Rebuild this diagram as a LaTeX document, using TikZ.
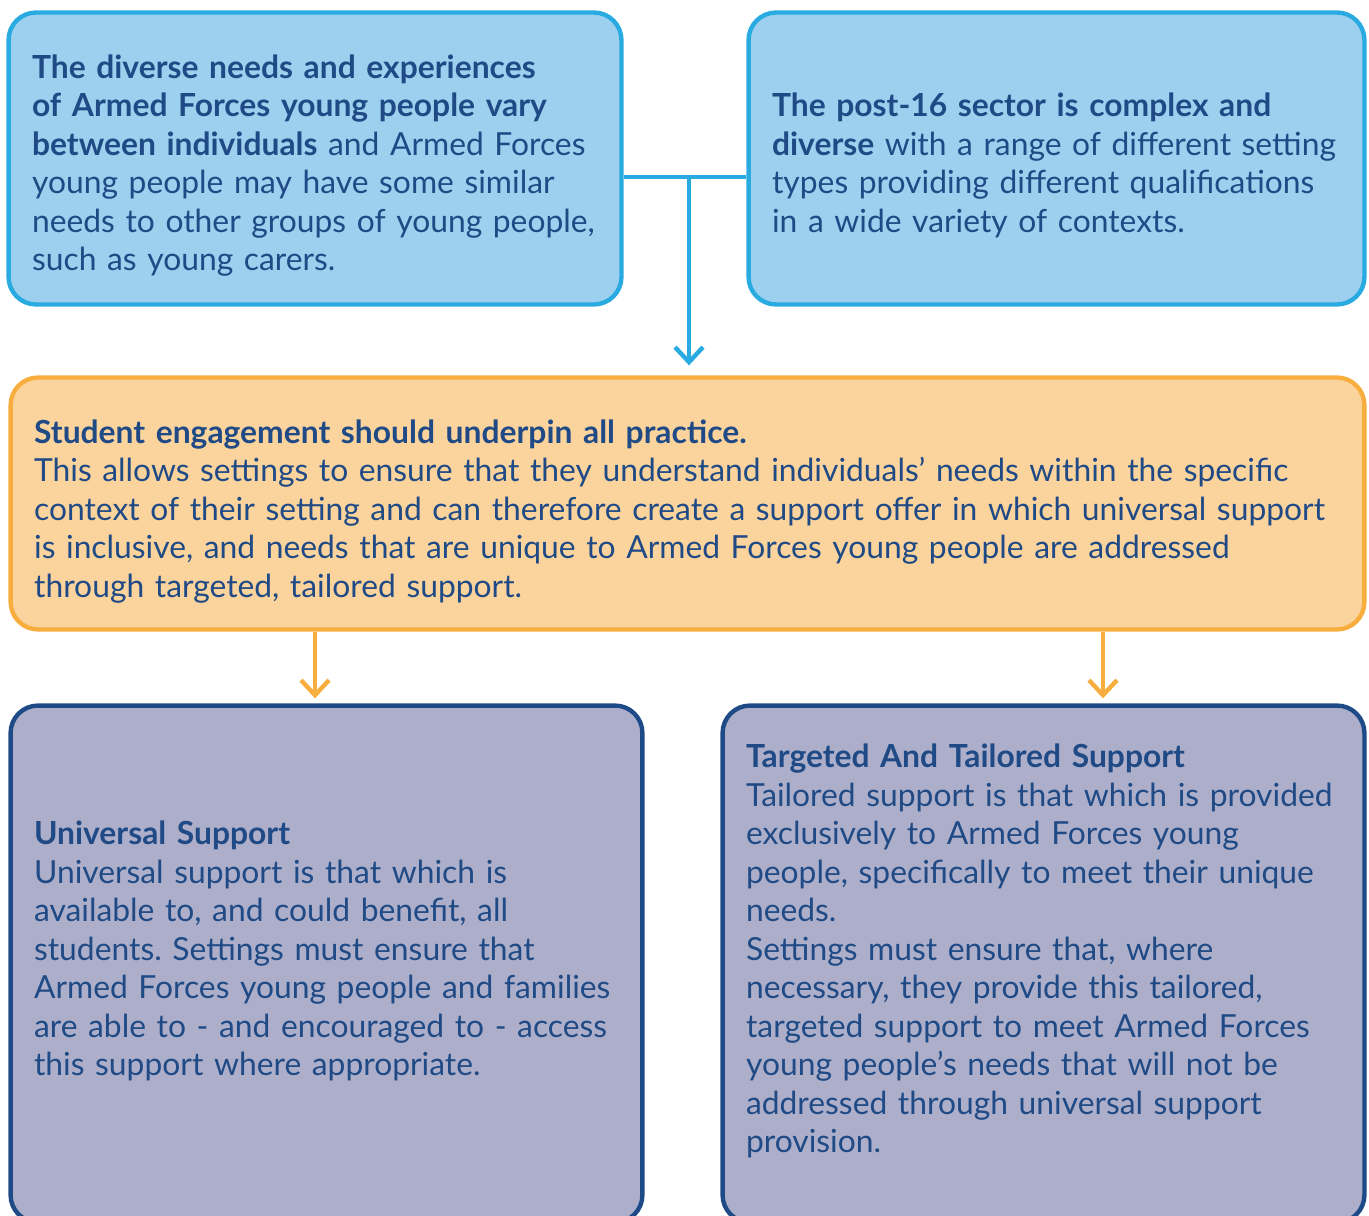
\documentclass[tikz,border=0pt]{standalone}
\usepackage{fontspec}
\setmainfont{Lato}
\usepackage{xcolor}
\usetikzlibrary{arrows.meta}
\usetikzlibrary{positioning}
\frenchspacing

\definecolor{bluefill}{HTML}{9DCFEE}
\definecolor{blueline}{HTML}{29ABE2}
\definecolor{orangefill}{HTML}{FBD49D}
\definecolor{orangeline}{HTML}{F8AE3F}
\definecolor{greyfill}{HTML}{ADAFCA}
\definecolor{navyline}{HTML}{1E4B87}
\definecolor{textblue}{HTML}{1F4A85}

\begin{document}
\begin{tikzpicture}[x=0.02cm,y=-0.02cm,line width=2.5pt,
  >={Straight Barb[length=0.3cm,width=0.56cm]},
  box/.style={rectangle,rounded corners=0.55cm,align=left,inner xsep=0.47cm,
    text=textblue,font=\fontsize{18.1}{21.9}\selectfont},
  blue node/.style={box,draw=blueline,fill=bluefill},
  orange node/.style={box,draw=orangeline,fill=orangefill},
  grey node/.style={box,draw=navyline,fill=greyfill}]

  \useasboundingbox (0,0) rectangle (1369,1216);

  \node[blue node,minimum width=12.26cm,minimum height=5.84cm,text width=11.32cm] (1) at (315,158.5)
    {\textbf{The diverse needs and experiences}\\
     \textbf{of Armed Forces young people vary}\\
     \textbf{between individuals} and Armed Forces\\
     young people may have some similar\\
     needs to other groups of young people,\\
     such as young carers.\par\vspace*{-0.28cm}};
  \node[blue node,minimum width=12.32cm,minimum height=5.84cm,text width=11.38cm] (2) at (1056.5,158.5)
    {\textbf{The post-16 sector is complex and}\\
     \textbf{diverse} with a range of different setting\\
     types providing different qualifications\\
     in a wide variety of contexts.\par\vspace*{-0.28cm}};
  \node[orange node,minimum width=27.08cm,minimum height=5.04cm,text width=26.14cm] (3) at (687.5,503.5)
    {\textbf{Student engagement should underpin all practice.}\\
     This allows settings to ensure that they understand individuals’ needs within the specific\\
     context of their setting and can therefore create a support offer in which universal support\\
     is inclusive, and needs that are unique to Armed Forces young people are addressed\\
     through targeted, tailored support.\par\vspace*{-0.32cm}};
  \node[grey node,minimum width=12.64cm,minimum height=10.34cm,text width=11.7cm] (4) at (326.5,964)
    {\textbf{Universal Support}\\
     Universal support is that which is\\
     available to, and could benefit, all\\
     students. Settings must ensure that\\
     Armed Forces young people and families\\
     are able to - and encouraged to - access\\
     this support where appropriate.\par\vspace*{0.52cm}};
  \node[grey node,minimum width=12.84cm,minimum height=10.34cm,text width=11.9cm] (5) at (1043.5,964)
    {\textbf{Targeted And Tailored Support}\\
     Tailored support is that which is provided\\
     exclusively to Armed Forces young\\
     people, specifically to meet their unique\\
     needs.\\
     Settings must ensure that, where\\
     necessary, they provide this tailored,\\
     targeted support to meet Armed Forces\\
     young people’s needs that will not be\\
     addressed through universal support\\
     provision.\par\vspace*{0.52cm}};

  \coordinate (j) at (689,177);
  \coordinate (u) at ([xshift=-0.23cm]4.north);
  \coordinate (t) at ([xshift=1.19cm]5.north);

  \draw[blueline] (1.east |- j) -- (2.west |- j);
  \draw[->,blueline,shorten >=0.2cm] (j) -- (j |- 3.north);
  \draw[->,orangeline,shorten >=0.1cm] (u |- 3.south) -- (u);
  \draw[->,orangeline,shorten >=0.1cm] (t |- 3.south) -- (t);
\end{tikzpicture}
\end{document}
